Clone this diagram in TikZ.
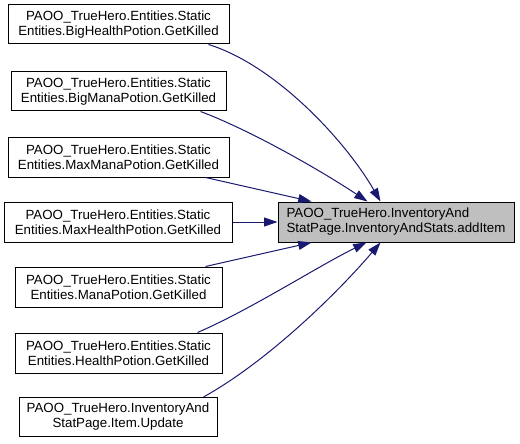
\documentclass[tikz,border=0pt]{standalone}
\usepackage{fontspec}
\setmainfont{Liberation Sans}
\usetikzlibrary{arrows.meta,calc}
\definecolor{edgeblue}{HTML}{191970}
\definecolor{targetgray}{HTML}{BFBFBF}
\begin{document}
\begin{tikzpicture}[x=1pt,y=-1pt,
  box/.style={draw=black,line width=1pt,fill=white,align=center,inner sep=0pt,
    font=\fontsize{13.3}{15}\selectfont},
  tbox/.style={box,fill=targetgray,align=left},
  edge/.style={draw=edgeblue,line width=1pt,-{Triangle[length=13.3pt,width=8.9pt]}}]
\useasboundingbox (0,0) rectangle (520,444);
\node[box,minimum width=221pt,minimum height=39pt] (b1) at (118.5,24.5) {PAOO\_TrueHero.Entities.Static\\Entities.BigHealthPotion.GetKilled};
\node[box,minimum width=215pt,minimum height=39pt] (b2) at (118.5,91.5) {PAOO\_TrueHero.Entities.Static\\Entities.BigManaPotion.GetKilled};
\node[box,minimum width=221pt,minimum height=40pt] (b3) at (118.5,157) {PAOO\_TrueHero.Entities.Static\\Entities.MaxManaPotion.GetKilled};
\node[box,minimum width=228pt,minimum height=40pt] (b4) at (118,222) {PAOO\_TrueHero.Entities.Static\\Entities.MaxHealthPotion.GetKilled};
\node[box,minimum width=207pt,minimum height=40pt] (b5) at (118.5,287) {PAOO\_TrueHero.Entities.Static\\Entities.ManaPotion.GetKilled};
\node[box,minimum width=207pt,minimum height=40pt] (b6) at (118.5,353) {PAOO\_TrueHero.Entities.Static\\Entities.HealthPotion.GetKilled};
\node[box,minimum width=198pt,minimum height=39pt] (b7) at (118,417) {PAOO\_TrueHero.InventoryAnd\\StatPage.Item.Update};
\node[tbox,minimum width=236pt,minimum height=40pt] (t) at (396,222) {PAOO\_TrueHero.InventoryAnd\\StatPage.InventoryAndStats.addItem};
% edges
\draw[edge] ($(b1.south east)+(-21,0)$) .. controls (275,65) and (345,140) .. ($(t.north west)+(103,0)$);
\draw[edge] ($(b2.south east)+(-26,0)$) .. controls (250,130) and (320,170) .. ($(t.north west)+(90,0)$);
\draw[edge] ($(b3.south east)+(-24,0)$) -- ($(t.north west)+(34,0)$);
\draw[edge] (b4.east) -- (t.west);
\draw[edge] ($(b5.north east)+(-17,0)$) -- ($(t.south west)+(34,0)$);
\draw[edge] ($(b6.north east)+(-25,0)$) .. controls (250,310) and (320,265) .. ($(t.south west)+(89,0)$);
\draw[edge] ($(b7.north east)+(-14,0)$) .. controls (270,360) and (340,290) .. ($(t.south west)+(103,0)$);
\end{tikzpicture}
\end{document}
